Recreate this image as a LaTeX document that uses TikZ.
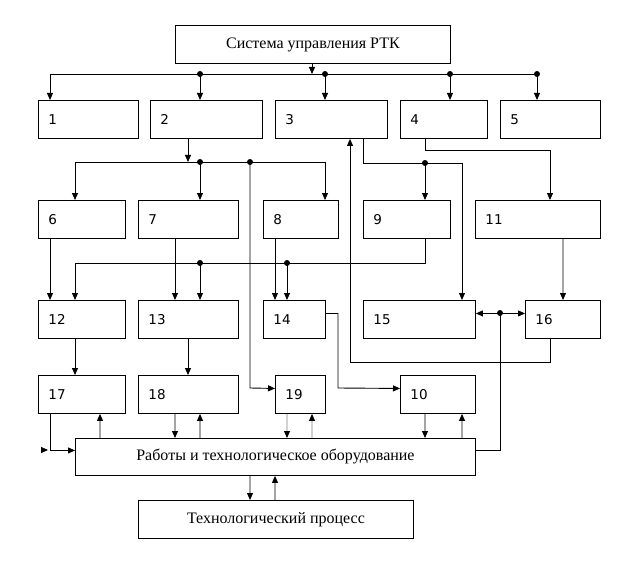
\documentclass[tikz,border=0pt]{standalone}
\usepackage{fontspec}
\setmainfont{Liberation Serif}
\newfontfamily\numfont{DejaVu Sans}
\usetikzlibrary{arrows.meta}

\tikzset{
  blok/.style={draw, anchor=north west, inner sep=0pt, minimum height=38bp},
  num/.style={anchor=west, inner sep=0pt, xshift=10bp, font=\numfont\fontsize{13.5bp}{16bp}\selectfont},
  titel/.style={draw, anchor=north west, inner sep=0pt, font=\fontsize{16bp}{19bp}\selectfont},
  dot/.style={anchor=center, circle, fill, inner sep=0pt, minimum size=6bp},
  pijl/.style={-{Triangle[length=7bp,width=6bp]}},
  dubbel/.style={{Triangle[length=7bp,width=6bp]}-{Triangle[length=7bp,width=6bp]}},
  grijs/.style={draw=gray, -{Triangle[length=7bp,width=6bp,color=black]}}
}

\newcommand{\blok}[5]{
  \node [blok, minimum width=#4bp, label={[num]west:#5}] (#1) at (#2,#3) {};
}

\begin{document}
\begin{tikzpicture}[x=1bp, y=-1bp, line width=0.9bp]
  \useasboundingbox (0,0) rectangle (638,563);

  \node [titel, minimum width=275bp, minimum height=38bp] (sys) at (175,25) {Система управления РТК};

  \blok{b1}{38}{100}{100}{1}
  \blok{b2}{150}{100}{112}{2}
  \blok{b3}{275}{100}{112}{3}
  \blok{b4}{400}{100}{87}{4}
  \blok{b5}{500}{100}{100}{5}

  \blok{b6}{38}{200}{87}{6}
  \blok{b7}{138}{200}{100}{7}
  \blok{b8}{263}{200}{75}{8}
  \blok{b9}{363}{200}{87}{9}
  \blok{b11}{475}{200}{125}{11}

  \blok{b12}{38}{300}{87}{12}
  \blok{b13}{138}{300}{100}{13}
  \blok{b14}{263}{300}{62}{14}
  \blok{b15}{363}{300}{112}{15}
  \blok{b16}{525}{300}{75}{16}

  \blok{b17}{38}{375}{87}{17}
  \blok{b18}{138}{375}{100}{18}
  \blok{b19}{275}{375}{50}{19}
  \blok{b10}{400}{375}{75}{10}

  \node [titel, minimum width=400bp, minimum height=37bp] (rab) at (75,438) {Работы и технологическое оборудование};
  \node [titel, minimum width=275bp, minimum height=38bp] (tp) at (138,500) {Технологический процесс};

  % upper bus
  \coordinate (s1) at (312,74);
  \coordinate (k1) at (50,74);
  \node [dot] (p1) at (200,74) {};
  \node [dot] (p2) at (325,74) {};
  \node [dot] (p3) at (450,74) {};
  \node [dot] (p4) at (537,74) {};

  \draw [pijl] (sys.south -| s1) -- (s1);
  \draw [pijl] (p4.center) -- (k1) -- (k1 |- b1.north);
  \draw [pijl] (p1.center) -- (p1 |- b2.north);
  \draw [pijl] (p2.center) -- (p2 |- b3.north);
  \draw [pijl] (p3.center) -- (p3 |- b4.north);
  \draw [pijl] (p4.center) -- (p4 |- b5.north);

  % bus under block 2
  \coordinate (s2) at (188,162);
  \coordinate (k2) at (75,162);
  \coordinate (k3) at (325,162);
  \coordinate (k4) at (250,388);
  \node [dot] (p5) at (200,162) {};
  \node [dot] (p6) at (250,162) {};

  \draw [pijl] (b2.south -| s2) -- (s2);
  \draw [pijl] (k3) -- (k2) -- (k2 |- b6.north);
  \draw [pijl] (k3) -- (k3 |- b8.north);
  \draw [pijl] (p5.center) -- (p5 |- b7.north);
  \draw [pijl] (p6.center) -- (k4) -- ([yshift=6bp]b19.west);

  % block 3 and block 4
  \coordinate (k5) at (363,163);
  \coordinate (k6) at (462,163);
  \coordinate (k7) at (425,150);
  \coordinate (k8) at (550,150);
  \node [dot] (p7) at (425,163) {};

  \draw [pijl] (b3.south -| k5) -- (k5) -- (k6) -- (k6 |- b15.north);
  \draw [pijl] (p7.center) -- (p7 |- b9.north);
  \draw [pijl] (b4.south -| k7) -- (k7) -- (k8) -- (k8 |- b11.north);

  % back from block 16
  \coordinate (k9) at (550,362);
  \coordinate (k10) at (350,362);
  \draw [pijl] (b16.south -| k9) -- (k9) -- (k10) -- (k10 |- b3.south);

  % bus under block 9
  \coordinate (k12) at (425,263);
  \coordinate (k13) at (75,263);
  \node [dot] (p8) at (200,263) {};
  \node [dot] (p9) at (287,263) {};

  \draw [pijl] (b9.south -| k12) -- (k12) -- (k13) -- (k13 |- b12.north);
  \draw [pijl] (p8.center) -- (p8 |- b13.north);
  \draw [pijl] (p9.center) -- (p9 |- b14.north);

  \draw [pijl] ([xshift=12bp]b6.south west) -- ([xshift=12bp]b12.north west);
  \draw [pijl] ([xshift=37bp]b7.south west) -- ([xshift=37bp]b13.north west);
  \draw [pijl] ([xshift=12bp]b8.south west) -- ([xshift=12bp]b14.north west);
  \draw [pijl] ([xshift=88bp]b11.south west) -- ([xshift=38bp]b16.north west);
  \draw [pijl] ([xshift=37bp]b12.south west) -- ([xshift=37bp]b17.north west);
  \draw [pijl] ([xshift=50bp]b13.south west) -- ([xshift=50bp]b18.north west);

  % blocks 14, 15, 16
  \coordinate (k15) at (338,388);
  \node [dot] (p10) at (500,313) {};
  \draw [pijl] ([yshift=6bp]b14.east) -| (k15) -- ([yshift=6bp]b10.west);
  \draw [dubbel] ([yshift=6bp]b15.east) -- ([yshift=6bp]b16.west);
  \draw ([yshift=6.5bp]rab.east) -| (p10.center);

  % robots and equipment
  \coordinate (e1) at (41,450);
  \coordinate (e2) at (48,450);
  \draw [pijl] (e1) -- (e2);
  \draw [pijl] ([xshift=12bp]b17.south west) |- ([yshift=6.5bp]rab.west);
  \draw [pijl] ([xshift=25bp]rab.north west) -- ([xshift=62bp]b17.south west);
  \draw [pijl] ([xshift=37bp]b18.south west) -- ([xshift=100bp]rab.north west);
  \draw [pijl] ([xshift=125bp]rab.north west) -- ([xshift=62bp]b18.south west);
  \draw [grijs] ([xshift=12bp]b19.south west) -- ([xshift=212bp]rab.north west);
  \draw [grijs] ([xshift=237bp]rab.north west) -- ([xshift=37bp]b19.south west);
  \draw [pijl] ([xshift=25bp]b10.south west) -- ([xshift=350bp]rab.north west);
  \draw [pijl] ([xshift=387bp]rab.north west) -- ([xshift=62bp]b10.south west);

  \draw [pijl] ([xshift=175bp]rab.south west) -- ([xshift=112bp]tp.north west);
  \draw [pijl] ([xshift=137bp]tp.north west) -- ([xshift=200bp]rab.south west);
\end{tikzpicture}
\end{document}
